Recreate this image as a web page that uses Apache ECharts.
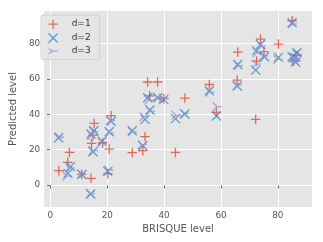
<!DOCTYPE html>
<html><head><meta charset="utf-8">
<script src="https://cdn.jsdelivr.net/npm/echarts@6/dist/echarts.min.js"></script>
<style>html,body{margin:0;padding:0;background:#fff}#c{width:323px;height:242px}</style>
</head><body><div id="c"></div>
<script>
const seriesNames = ['d=1', 'd=2', 'd=3'];
const xTicks = [0, 20, 40, 60, 80];
const yTicks = [0, 20, 40, 60, 80];
const d1 = [[3.0,8.1],[6.1,12.8],[6.7,18.4],[11.0,6.0],[14.3,3.8],[14.5,23.5],[15.4,34.8],[15.0,28.0],[18.4,23.9],[20.7,20.3],[20.2,6.4],[21.4,39.2],[28.8,18.3],[32.5,19.4],[33.3,27.3],[34.2,58.2],[37.7,58.2],[34.9,50.4],[39.9,48.8],[44.0,18.4],[47.3,49.1],[55.9,56.8],[58.4,41.0],[65.7,59.3],[65.9,75.1],[72.5,70.0],[72.2,37.1],[73.9,82.4],[75.1,75.3],[80.2,79.6],[85.0,92.8],[85.6,70.0],[86.7,73.2]];
const d2 = [[2.9,26.7],[6.2,6.6],[7.1,10.4],[11.1,6.0],[14.2,-5.1],[14.3,28.8],[15.3,30.7],[15.0,18.8],[18.2,24.7],[20.2,7.7],[20.7,30.1],[21.4,36.0],[28.8,30.7],[32.5,22.2],[33.3,37.1],[35.0,42.4],[34.2,49.3],[37.8,49.3],[39.9,48.4],[44.0,37.5],[47.3,40.1],[55.9,53.3],[58.4,39.0],[65.7,55.9],[65.9,68.1],[72.2,64.9],[72.5,75.9],[73.9,79.4],[75.3,72.5],[80.2,72.1],[85.0,91.7],[85.0,72.5],[86.2,69.5],[86.7,74.7],[86.0,72.0]];
const d3 = [[3.2,27.0],[5.9,5.1],[7.0,9.5],[11.0,6.3],[14.1,-4.8],[14.6,28.0],[15.2,30.2],[15.1,19.5],[18.3,24.2],[20.5,8.5],[20.9,29.5],[21.2,36.6],[28.9,30.0],[32.3,22.8],[33.0,38.6],[35.2,41.8],[34.7,48.0],[37.5,49.6],[39.7,48.9],[44.2,39.5],[47.1,40.5],[56.1,52.5],[58.7,44.2],[65.8,56.4],[66.1,67.5],[72.5,68.3],[72.8,74.8],[74.2,78.5],[75.1,73.0],[80.0,71.0],[85.2,91.0],[85.3,71.8],[86.4,70.3],[86.9,73.6],[86.3,71.0]];

const colors = ['#E24A33', '#348ABD', '#988ED5'];
const plusPath = 'path://M0,5L10,5M5,0L5,10';
const crossPath = 'path://M0,0L10,10M10,0L0,10';
const triPath = 'path://M5,5L10,5M5,5L0.67,2.5M5,5L0.67,7.5';
const symbols = [plusPath, crossPath, triPath];
const sizes = [9.5, 9, 9];
const dataSets = [d1, d2, d3];

const chart = echarts.init(document.getElementById('c'), null, {renderer: 'canvas'});
const axisCommon = {
  axisLine: {show: false},
  axisTick: {show: true, length: 3.5, lineStyle: {color: '#555', width: 0.8}},
  axisLabel: {color: '#555', fontSize: 8.8, fontFamily: 'DejaVu Sans', margin: 4},
  splitLine: {show: true, lineStyle: {color: '#fff', width: 1}},
  nameTextStyle: {color: '#555', fontSize: 10, fontFamily: 'DejaVu Sans'}
};
chart.setOption({
  animation: false,
  backgroundColor: '#fff',
  grid: {left: 37, right: 11, top: 11, bottom: 35, show: true, backgroundColor: '#E5E5E5', borderWidth: 0},
  legend: {
    orient: 'vertical', left: 41, top: 15,
    data: seriesNames.map((n, i) => ({name: n, icon: symbols[i]})),
    itemWidth: 9, itemHeight: 9, itemGap: 3.5,
    padding: [4, 9, 4, 7],
    backgroundColor: 'rgba(229,229,229,0.8)', borderColor: '#ccc', borderWidth: 0.8, borderRadius: 2,
    textStyle: {color: '#333', fontSize: 9, fontFamily: 'DejaVu Sans', padding: [0, 0, 0, 9]},
    itemStyle: {borderWidth: 1.3, color: 'transparent'}
  },
  xAxis: Object.assign({}, axisCommon, {
    type: 'value', min: -2.2, max: 92,
    name: 'BRISQUE level', nameLocation: 'middle', nameGap: 14,
    axisTick: Object.assign({}, axisCommon.axisTick, {customValues: xTicks}),
    axisLabel: Object.assign({}, axisCommon.axisLabel, {customValues: xTicks})
  }),
  yAxis: Object.assign({}, axisCommon, {
    type: 'value', min: -12.4, max: 98.3,
    name: 'Predicted level', nameLocation: 'middle', nameGap: 20,
    axisTick: Object.assign({}, axisCommon.axisTick, {customValues: yTicks}),
    axisLabel: Object.assign({}, axisCommon.axisLabel, {customValues: yTicks})
  }),
  series: dataSets.map((d, i) => ({
    name: seriesNames[i], type: 'scatter', data: d,
    symbol: symbols[i], symbolSize: sizes[i],
    itemStyle: {color: 'transparent', borderColor: colors[i], borderWidth: 1.3, opacity: 0.8}
  }))
});
</script></body></html>
